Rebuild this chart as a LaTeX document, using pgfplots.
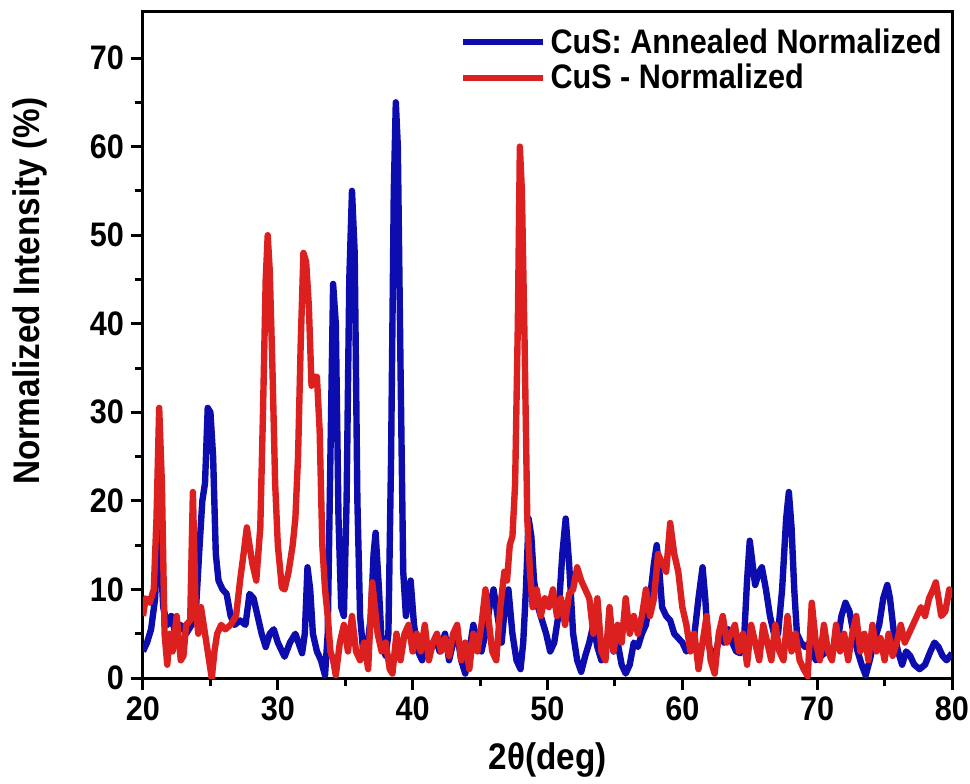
\documentclass[border=0pt]{standalone}
\usepackage{fontspec}
\setmainfont[FakeStretch=0.9]{Liberation Sans}
\usepackage{pgfplots}
\pgfplotsset{compat=1.18}
\usetikzlibrary{calc}
\definecolor{cblue}{RGB}{12,12,175}
\definecolor{cred}{RGB}{220,32,32}
\begin{document}
\begin{tikzpicture}
\begin{axis}[
  name=ax,
  scale only axis,
  width=404.5pt, height=333pt,
  xmin=20, xmax=80, ymin=0, ymax=75.2,
  xtick={20,30,...,80}, ytick={0,10,...,70},
  minor x tick num=1, minor y tick num=1,
  xtick pos=bottom, ytick pos=left,
  tick align=outside,
  major tick length=6pt, minor tick length=4pt,
  every tick/.style={black, line width=1.5pt},
  axis line style={line width=1.5pt},
  /pgf/number format/assume math mode=true,
  ticklabel style={font=\fontsize{17}{20}\selectfont\bfseries},
  label style={font=\fontsize{18.5}{22}\selectfont\bfseries},
  xlabel={2θ(deg)},
  ylabel={Normalized Intensity (\%)},
  xlabel style={at={(axis description cs:0.5,0)}, yshift=-41pt, anchor=center},
  ylabel style={at={(axis description cs:-0.1397,0.581)}, anchor=center},
  legend style={at={(rel axis cs:1,1)}, anchor=north east, xshift=-2pt, yshift=-5pt,
    draw=none, fill=none, font=\fontsize{17}{20}\selectfont\bfseries,
    row sep=0pt, inner sep=1pt},
  legend cell align=left,
  legend image code/.code={\draw[#1, line width=3.2pt] (0pt,0pt) -- (40pt,0pt);},
  every axis plot/.append style={line width=3.2pt, line join=round},
]
\addplot[cblue] coordinates {
(20.0,3)(20.3,4)(20.6,5.5)(20.9,9)(21.1,17)(21.3,14)(21.5,8)(21.8,6)(22.1,7)(22.4,5)
(22.8,6)(23.2,5)(23.6,6)(23.9,7)(24.2,15)(24.4,20)(24.6,22)(24.8,30.5)(25.0,30)(25.2,25)
(25.4,14)(25.6,11)(25.9,10)(26.2,9.5)(26.5,7)(26.8,6)(27.2,6.5)(27.6,6)(27.9,9.5)(28.2,9)
(28.5,7)(28.8,5)(29.1,3.5)(29.4,5)(29.7,5.5)(30.0,4)(30.5,2.4)(30.9,4)(31.3,5)(31.8,2.8)
(32.0,5)(32.2,12.5)(32.4,10)(32.6,5)(32.9,3)(33.2,2)(33.5,0.3)(33.7,5)(33.9,25)(34.1,44.5)
(34.3,40)(34.5,18)(34.7,8)(34.9,7)(35.1,20)(35.3,45)(35.5,55)(35.7,48)(35.9,20)(36.1,7)
(36.3,3.5)(36.6,3)(36.9,7)(37.1,14)(37.25,16.4)(37.5,10)(37.7,4)(38.0,2.5)(38.2,5)(38.4,25)
(38.6,55)(38.75,65)(38.9,60)(39.1,35)(39.3,12)(39.5,7)(39.7,10)(39.85,11)(40.1,6)(40.4,3)
(40.7,2)(41.0,4)(41.3,3)(41.7,4.5)(42.0,3)(42.4,5)(42.7,2)(43.0,4)(43.3,5)(43.6,2)
(43.9,0.5)(44.2,3)(44.5,6)(44.8,4)(45.1,3)(45.4,5)(45.7,8)(46.0,10)(46.3,7)(46.6,4)
(46.9,9)(47.1,10)(47.4,5)(47.7,2)(48.0,1)(48.2,4)(48.4,10)(48.6,18)(48.8,16)(49.0,11)
(49.3,8)(49.6,6.5)(49.9,5)(50.2,3)(50.5,4)(50.8,7)(51.1,14)(51.35,18)(51.6,13)(51.9,5)
(52.2,2)(52.5,0.7)(52.8,2.5)(53.1,4)(53.4,6)(53.7,3.5)(54.0,2)(54.3,4)(54.6,5)(54.9,3)
(55.2,4)(55.5,1.5)(55.8,0.5)(56.1,1.5)(56.4,4)(56.7,3.5)(57.0,5)(57.3,6)(57.6,9)(57.9,13)
(58.1,15)(58.3,12)(58.5,8)(58.8,7)(59.1,6.5)(59.4,5)(59.7,4.5)(60.0,4)(60.3,3)(60.6,3.5)
(60.9,5)(61.2,9)(61.5,12.5)(61.7,9)(61.9,4)(62.2,2.5)(62.5,3)(62.8,5)(63.1,4)(63.4,5.5)
(63.7,4)(64.0,3)(64.3,2.8)(64.6,5)(64.8,11)(65.0,15.5)(65.2,13)(65.4,10.5)(65.7,12)(65.9,12.5)
(66.2,10)(66.5,7)(66.8,5)(67.1,5)(67.4,10)(67.7,18)(67.9,21)(68.1,17)(68.3,10)(68.5,5)
(68.8,4)(69.1,3.5)(69.5,4)(69.9,2)(70.3,2.5)(70.7,3)(71.1,3)(71.5,4)(71.8,7)(72.1,8.5)
(72.4,7.5)(72.7,5)(73.0,3)(73.3,1.5)(73.6,0.3)(73.9,2)(74.2,4)(74.6,6)(74.9,9)(75.2,10.5)
(75.4,9)(75.7,5)(76.0,3)(76.3,1.5)(76.6,3)(76.9,2.5)(77.2,1.5)(77.6,1)(78.0,1.5)(78.4,3)
(78.7,4)(79.0,3.5)(79.3,2.5)(79.6,2)(80.0,2.8)
};
\addlegendentry{CuS: Annealed Normalized}
\addplot[cred] coordinates {
(20.0,7)(20.2,9)(20.5,8.5)(20.8,10)(21.0,18)(21.2,30.5)(21.4,22)(21.6,5)(21.8,1.5)(22.0,5)
(22.2,3)(22.5,7)(22.8,2)(23.0,2.5)(23.2,6)(23.5,6.5)(23.7,21)(23.9,8)(24.1,5)(24.3,8)
(24.6,5)(24.9,2)(25.1,0)(25.3,3)(25.5,5)(25.8,6)(26.1,5.5)(26.5,6)(26.9,7)(27.2,11)
(27.5,14.5)(27.7,17)(27.9,15)(28.1,13)(28.4,11)(28.7,17)(28.9,30)(29.1,45)(29.25,50)(29.4,46)
(29.6,35)(29.8,22)(30.0,15)(30.3,10.2)(30.5,10)(30.8,12)(31.1,15)(31.3,18)(31.5,25)(31.7,38)
(31.9,48)(32.1,47)(32.3,42)(32.5,33)(32.7,34)(32.9,34)(33.1,28)(33.3,15)(33.5,10)(33.7,7)
(33.9,3)(34.1,2)(34.3,0.3)(34.6,4)(34.9,6)(35.2,3)(35.5,7)(35.8,3)(36.1,2)(36.4,4)
(36.7,1)(36.85,6)(37.0,10.8)(37.2,8)(37.4,5)(37.7,3)(38.0,4)(38.3,1)(38.5,0.5)(38.8,5)
(39.1,2)(39.4,5)(39.7,6)(40.0,3)(40.3,5)(40.6,3)(40.9,6)(41.2,2)(41.5,4)(41.8,5)
(42.1,3)(42.4,4.5)(42.7,2.5)(43.0,5)(43.3,6)(43.6,2)(43.9,4)(44.2,1)(44.5,5)(44.8,3)
(45.1,6)(45.4,10)(45.6,7)(45.9,3)(46.2,2)(46.5,8)(46.8,12)(47.0,11)(47.2,15)(47.4,16)
(47.6,22)(47.8,40)(47.95,60)(48.1,55)(48.3,38)(48.5,18)(48.7,12)(48.9,8)(49.2,10)(49.5,7)
(49.8,9)(50.1,8)(50.4,10)(50.7,7)(51.0,9)(51.3,6)(51.6,9.5)(51.9,10)(52.2,12.5)(52.5,11)
(52.8,10)(53.1,9)(53.4,5)(53.7,9)(54.0,3)(54.3,2)(54.6,8)(54.9,3)(55.2,6)(55.5,4)
(55.8,9)(56.1,5)(56.4,7)(56.7,5)(57.0,7)(57.3,10)(57.6,7)(57.9,9)(58.2,14)(58.5,13)
(58.8,12)(59.1,17.5)(59.4,14)(59.7,12)(60.0,8)(60.3,6)(60.6,3)(60.9,5)(61.2,1)(61.5,4)
(61.8,7)(62.1,2)(62.4,0.5)(62.7,5)(63.0,7)(63.3,4)(63.6,5)(63.9,6)(64.2,3)(64.5,5)
(64.8,1.5)(65.1,6)(65.4,4)(65.7,2)(66.0,6)(66.3,4)(66.6,2)(66.9,6)(67.2,3)(67.5,2)
(67.8,7)(68.1,3)(68.4,5)(68.7,2)(69.0,1)(69.3,0.2)(69.6,8.5)(69.9,4)(70.2,2)(70.5,6)
(70.8,3)(71.1,2)(71.4,6)(71.7,3)(72.0,5)(72.3,2)(72.6,5)(72.9,7)(73.2,3)(73.5,5)
(73.8,2)(74.1,6)(74.4,3)(74.7,4.5)(75.0,2)(75.3,5)(75.6,2.5)(75.9,4)(76.2,6)(76.5,4)
(76.8,5)(77.1,6)(77.4,7)(77.7,8)(78.0,7)(78.3,9)(78.6,10)(78.8,10.8)(79.0,9)(79.2,7)
(79.5,7.5)(79.8,10)(80.0,9)
};
\addlegendentry{CuS - Normalized}
\end{axis}
\pgfresetboundingbox
\path[use as bounding box] ($(ax.south west)+(-71.5pt,-52.5pt)$) rectangle ($(ax.north east)+(9pt,6pt)$);
\end{tikzpicture}
\end{document}
